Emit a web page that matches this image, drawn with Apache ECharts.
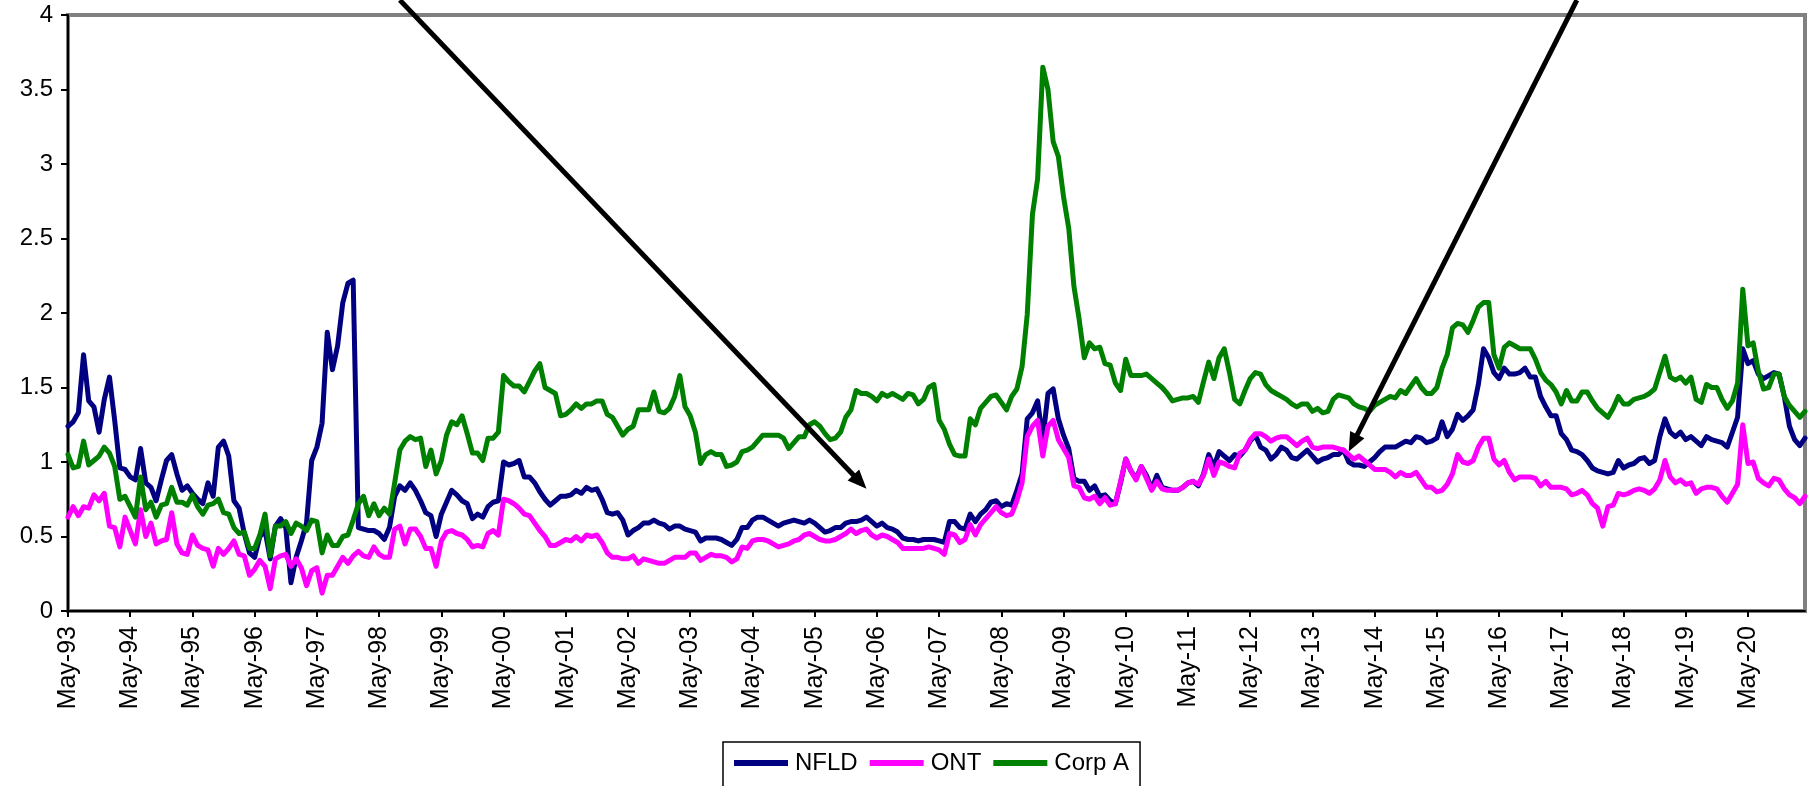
<!DOCTYPE html>
<html>
<head>
<meta charset="utf-8">
<script src="https://cdn.jsdelivr.net/npm/echarts@6/dist/echarts.min.js"></script>
<style>
  html, body { margin: 0; padding: 0; background: #ffffff; }
  #chart { width: 1818px; height: 786px; }
</style>
</head>
<body>
<div id="chart"></div>
<script>
// Monthly series, May 1993 through April 2021
const startYear = 1993;
const startMonth = 4; // May (0-based)
const monthNames = ['Jan','Feb','Mar','Apr','May','Jun','Jul','Aug','Sep','Oct','Nov','Dec'];

const nfld = [
  1.24,1.27,1.33,1.72,1.41,1.37,1.20,1.42,1.57,1.28,0.96,0.95,
  0.90,0.88,1.09,0.86,0.83,0.74,0.88,1.01,1.05,0.92,0.81,0.84,
  0.79,0.75,0.72,0.86,0.77,1.10,1.14,1.04,0.74,0.69,0.52,0.39,
  0.36,0.50,0.54,0.35,0.57,0.62,0.56,0.19,0.36,0.47,0.59,1.01,
  1.10,1.26,1.87,1.62,1.78,2.07,2.20,2.22,0.56,0.55,0.54,0.54,
  0.52,0.48,0.56,0.77,0.84,0.81,0.86,0.81,0.74,0.66,0.64,0.50,
  0.65,0.73,0.81,0.78,0.74,0.72,0.62,0.65,0.63,0.70,0.73,0.74,
  1.00,0.98,0.99,1.01,0.90,0.90,0.86,0.80,0.75,0.71,0.74,0.77,
  0.77,0.78,0.81,0.79,0.83,0.81,0.82,0.75,0.66,0.65,0.66,0.61,
  0.51,0.54,0.56,0.59,0.59,0.61,0.59,0.58,0.55,0.57,0.57,0.55,
  0.54,0.53,0.47,0.49,0.49,0.49,0.48,0.46,0.44,0.48,0.56,0.56,
  0.61,0.63,0.63,0.61,0.59,0.57,0.59,0.60,0.61,0.60,0.59,0.61,
  0.59,0.56,0.53,0.54,0.56,0.56,0.59,0.60,0.60,0.61,0.63,0.60,
  0.57,0.59,0.56,0.55,0.53,0.49,0.48,0.48,0.47,0.48,0.48,0.48,
  0.47,0.46,0.60,0.60,0.56,0.55,0.65,0.60,0.65,0.68,0.73,0.74,
  0.70,0.72,0.71,0.81,0.92,1.29,1.33,1.41,1.15,1.46,1.49,1.29,
  1.18,1.09,0.89,0.87,0.87,0.81,0.84,0.77,0.78,0.74,0.72,0.86,
  1.02,0.94,0.89,0.97,0.91,0.82,0.91,0.83,0.82,0.81,0.81,0.83,
  0.86,0.87,0.84,0.92,1.05,0.97,1.07,1.04,1.01,1.05,1.04,1.08,
  1.14,1.18,1.10,1.08,1.02,1.05,1.10,1.08,1.03,1.02,1.05,1.08,
  1.04,1.00,1.02,1.03,1.05,1.05,1.08,1.00,0.98,0.98,0.97,1.00,
  1.03,1.07,1.10,1.10,1.10,1.12,1.14,1.13,1.17,1.16,1.13,1.14,
  1.16,1.27,1.17,1.22,1.32,1.28,1.31,1.35,1.52,1.76,1.70,1.60,
  1.56,1.63,1.59,1.59,1.60,1.63,1.57,1.57,1.44,1.37,1.31,1.31,
  1.19,1.15,1.08,1.07,1.05,1.01,0.96,0.94,0.93,0.92,0.93,1.01,
  0.96,0.98,0.99,1.02,1.03,0.99,1.01,1.17,1.29,1.20,1.17,1.20,
  1.15,1.17,1.14,1.11,1.17,1.15,1.14,1.13,1.10,1.20,1.30,1.76,
  1.66,1.68,1.59,1.56,1.58,1.60,1.59,1.44,1.24,1.15,1.11,1.16
];

const ont = [
  0.63,0.70,0.64,0.70,0.69,0.78,0.74,0.79,0.57,0.56,0.43,0.63,
  0.54,0.45,0.68,0.50,0.59,0.45,0.47,0.48,0.66,0.45,0.39,0.38,
  0.51,0.44,0.42,0.41,0.30,0.42,0.38,0.42,0.47,0.38,0.37,0.24,
  0.28,0.34,0.30,0.15,0.35,0.37,0.38,0.30,0.35,0.29,0.17,0.27,
  0.29,0.12,0.24,0.24,0.30,0.36,0.32,0.37,0.40,0.37,0.36,0.43,
  0.38,0.36,0.36,0.55,0.57,0.45,0.55,0.55,0.50,0.42,0.42,0.30,
  0.47,0.53,0.54,0.52,0.51,0.48,0.43,0.44,0.43,0.52,0.54,0.51,
  0.75,0.74,0.72,0.69,0.65,0.64,0.59,0.54,0.50,0.44,0.44,0.46,
  0.48,0.47,0.50,0.47,0.51,0.50,0.51,0.46,0.39,0.36,0.36,0.35,
  0.35,0.37,0.32,0.35,0.34,0.33,0.32,0.32,0.34,0.36,0.36,0.36,
  0.39,0.39,0.34,0.36,0.38,0.37,0.37,0.36,0.33,0.35,0.43,0.42,
  0.47,0.48,0.48,0.47,0.45,0.43,0.44,0.45,0.47,0.48,0.51,0.52,
  0.50,0.48,0.47,0.47,0.48,0.50,0.52,0.55,0.52,0.54,0.55,0.51,
  0.49,0.51,0.50,0.48,0.46,0.42,0.42,0.42,0.42,0.42,0.43,0.42,
  0.41,0.38,0.52,0.51,0.46,0.48,0.58,0.51,0.58,0.62,0.66,0.70,
  0.66,0.64,0.65,0.74,0.86,1.17,1.24,1.28,1.04,1.24,1.28,1.15,
  1.09,1.03,0.84,0.83,0.76,0.75,0.77,0.72,0.76,0.71,0.72,0.87,
  1.02,0.94,0.88,0.97,0.89,0.81,0.87,0.82,0.81,0.81,0.81,0.83,
  0.86,0.87,0.85,0.91,1.02,0.91,1.00,0.99,0.97,0.96,1.06,1.08,
  1.15,1.19,1.19,1.17,1.14,1.16,1.17,1.17,1.14,1.11,1.14,1.16,
  1.10,1.09,1.10,1.10,1.10,1.09,1.08,1.05,1.02,1.04,1.01,0.98,
  0.95,0.95,0.95,0.93,0.90,0.93,0.91,0.91,0.93,0.88,0.83,0.83,
  0.80,0.81,0.85,0.92,1.05,1.00,0.99,1.01,1.10,1.16,1.16,1.02,
  0.98,1.01,0.93,0.88,0.90,0.90,0.90,0.89,0.84,0.87,0.83,0.83,
  0.83,0.82,0.78,0.79,0.81,0.78,0.72,0.69,0.57,0.70,0.71,0.79,
  0.78,0.79,0.81,0.82,0.81,0.79,0.82,0.88,1.01,0.90,0.86,0.88,
  0.85,0.86,0.79,0.82,0.83,0.83,0.82,0.77,0.73,0.79,0.85,1.25,
  0.99,1.00,0.89,0.86,0.84,0.89,0.88,0.82,0.78,0.76,0.72,0.77
];

const corpA = [
  1.05,0.96,0.97,1.14,0.98,1.01,1.04,1.10,1.06,0.97,0.75,0.77,
  0.70,0.63,0.90,0.68,0.73,0.63,0.71,0.72,0.83,0.73,0.73,0.71,
  0.78,0.70,0.65,0.71,0.72,0.75,0.66,0.65,0.56,0.52,0.53,0.42,
  0.42,0.51,0.65,0.37,0.57,0.57,0.60,0.52,0.59,0.57,0.54,0.61,
  0.60,0.39,0.51,0.44,0.44,0.50,0.51,0.61,0.72,0.77,0.64,0.72,
  0.64,0.69,0.65,0.86,1.08,1.14,1.17,1.15,1.16,0.97,1.08,0.92,
  1.01,1.18,1.27,1.25,1.31,1.19,1.06,1.06,1.01,1.16,1.16,1.20,
  1.58,1.54,1.51,1.51,1.47,1.54,1.61,1.66,1.50,1.48,1.46,1.31,
  1.32,1.35,1.39,1.36,1.39,1.39,1.41,1.41,1.32,1.30,1.24,1.18,
  1.22,1.24,1.35,1.35,1.35,1.47,1.34,1.33,1.36,1.44,1.58,1.37,
  1.31,1.20,0.99,1.05,1.07,1.05,1.05,0.97,0.98,1.00,1.07,1.08,
  1.10,1.14,1.18,1.18,1.18,1.18,1.16,1.09,1.13,1.17,1.17,1.25,
  1.27,1.24,1.19,1.15,1.16,1.20,1.30,1.35,1.48,1.46,1.46,1.44,
  1.41,1.46,1.44,1.46,1.44,1.42,1.46,1.45,1.39,1.42,1.50,1.52,
  1.28,1.22,1.12,1.05,1.04,1.04,1.29,1.25,1.36,1.40,1.44,1.45,
  1.40,1.35,1.44,1.49,1.64,1.99,2.66,2.90,3.65,3.50,3.15,3.05,
  2.78,2.57,2.18,1.96,1.70,1.80,1.76,1.77,1.66,1.65,1.53,1.48,
  1.69,1.58,1.58,1.58,1.59,1.56,1.53,1.50,1.46,1.41,1.42,1.43,
  1.43,1.44,1.40,1.54,1.67,1.56,1.70,1.76,1.60,1.42,1.39,1.48,
  1.56,1.60,1.59,1.52,1.48,1.46,1.44,1.42,1.39,1.37,1.39,1.39,
  1.34,1.36,1.33,1.34,1.42,1.45,1.44,1.43,1.39,1.37,1.36,1.34,
  1.38,1.40,1.42,1.44,1.43,1.48,1.46,1.51,1.56,1.50,1.46,1.46,
  1.50,1.63,1.72,1.90,1.93,1.92,1.87,1.95,2.04,2.07,2.07,1.72,
  1.63,1.77,1.80,1.78,1.76,1.76,1.76,1.69,1.60,1.55,1.52,1.47,
  1.39,1.48,1.41,1.41,1.47,1.47,1.41,1.36,1.33,1.30,1.36,1.44,
  1.39,1.39,1.42,1.43,1.44,1.46,1.49,1.60,1.71,1.57,1.55,1.57,
  1.53,1.57,1.42,1.40,1.52,1.50,1.50,1.42,1.36,1.41,1.53,2.16,
  1.78,1.80,1.61,1.49,1.50,1.59,1.59,1.44,1.38,1.34,1.30,1.34
];

// Month labels such as "May-93"
const categories = nfld.map(function (_, i) {
  const m = (startMonth + i) % 12;
  const y = startYear + Math.floor((startMonth + i) / 12);
  return monthNames[m] + '-' + String(y % 100).padStart(2, '0');
});

const yTicks = { min: 0, max: 4, step: 0.5 };

// Callout arrows, given in axis units: [month index, value]
const arrows = [
  { from: [64, 4.1], to: [154.4, 0.82] },
  { from: [291.3, 4.1], to: [247.2, 1.07] }
];

const font = '"Liberation Sans", Arial, sans-serif';
const chart = echarts.init(document.getElementById('chart'), null, { renderer: 'canvas' });

function lineSeries(name, data, color) {
  return {
    name: name,
    type: 'line',
    data: data,
    symbol: 'none',
    showSymbol: false,
    lineStyle: { width: 5, color: color, join: 'round', cap: 'round' },
    itemStyle: { color: color },
    emphasis: { disabled: true }
  };
}

chart.setOption({
  animation: false,
  backgroundColor: '#ffffff',
  grid: {
    left: 68, right: 13, top: 15, bottom: 175,
    show: true, borderColor: '#808080', borderWidth: 4, backgroundColor: '#ffffff'
  },
  legend: {
    left: 723, top: 742,
    data: ['NFLD', 'ONT', 'Corp A'],
    icon: 'rect',
    itemWidth: 54, itemHeight: 6, itemGap: 12,
    borderColor: '#000000', borderWidth: 1.5,
    padding: [9, 11, 30, 11],
    textStyle: { fontSize: 24, color: '#000000', fontFamily: font, padding: [0, 0, 0, 2] }
  },
  xAxis: {
    type: 'category',
    data: categories,
    boundaryGap: false,
    axisLine: { show: true, lineStyle: { color: '#000000', width: 2 } },
    axisTick: { show: true, interval: 11, length: 6, lineStyle: { color: '#000000', width: 2 } },
    axisLabel: { interval: 11, rotate: 90, fontSize: 25, color: '#000000', fontFamily: font, margin: 15 },
    splitLine: { show: false }
  },
  yAxis: {
    type: 'value',
    min: yTicks.min, max: yTicks.max, interval: yTicks.step,
    axisLine: { show: true, lineStyle: { color: '#000000', width: 2 } },
    axisTick: { show: true, length: 7, lineStyle: { color: '#000000', width: 2 } },
    axisLabel: { fontSize: 24, color: '#000000', fontFamily: font, margin: 15 },
    splitLine: { show: false }
  },
  series: [
    lineSeries('NFLD', nfld, '#000080'),
    lineSeries('ONT', ont, '#ff00ff'),
    lineSeries('Corp A', corpA, '#008000')
  ]
});

// Arrow lines with filled heads, positioned through the grid's coordinate system
const arrowGraphics = [];
arrows.forEach(function (a) {
  const p0 = chart.convertToPixel({ gridIndex: 0 }, a.from);
  const p1 = chart.convertToPixel({ gridIndex: 0 }, a.to);
  const dx = p1[0] - p0[0], dy = p1[1] - p0[1];
  const len = Math.sqrt(dx * dx + dy * dy);
  const ux = dx / len, uy = dy / len;
  const headLen = 19, headHalf = 8;
  const bx = p1[0] - ux * headLen, by = p1[1] - uy * headLen;
  arrowGraphics.push({
    type: 'line', silent: true, z: 100,
    shape: { x1: p0[0], y1: p0[1], x2: bx + ux * 2, y2: by + uy * 2 },
    style: { stroke: '#000000', lineWidth: 5 }
  });
  arrowGraphics.push({
    type: 'polygon', silent: true, z: 100,
    shape: { points: [
      [p1[0], p1[1]],
      [bx - uy * headHalf, by + ux * headHalf],
      [bx + uy * headHalf, by - ux * headHalf]
    ] },
    style: { fill: '#000000' }
  });
});
chart.setOption({ graphic: arrowGraphics });
</script>
</body>
</html>
